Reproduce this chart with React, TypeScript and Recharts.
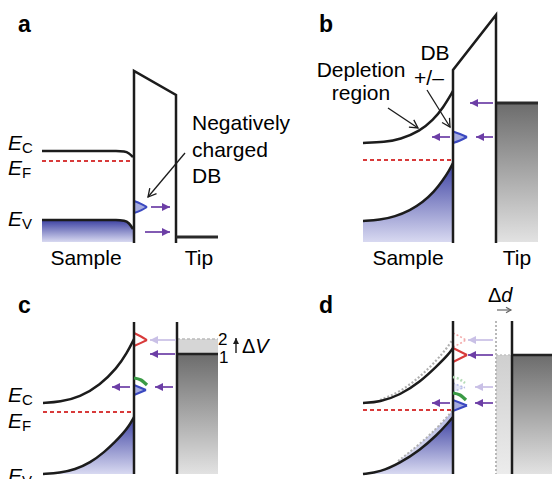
import React from 'react';
import { ComposedChart, Line, Area, XAxis, YAxis } from 'recharts';

type P = { x: number; y: number };
type R = { x: number; r: [number, number] };

// ---------- Panel a : flat bands, negatively charged DB ----------
const ecA: P[] = [{ x: 42, y: 151 }, { x: 116, y: 151 }, { x: 124, y: 151.6 }, { x: 129, y: 153.5 }, { x: 133, y: 157 }];
const efA: P[] = [{ x: 42, y: 161 }, { x: 132, y: 161 }];
const evA: P[] = [{ x: 42, y: 220 }, { x: 116, y: 220 }, { x: 124, y: 220.8 }, { x: 129, y: 223.5 }, { x: 133, y: 229 }];
const barrierA: P[] = [{ x: 134, y: 243 }, { x: 134, y: 71 }, { x: 176, y: 95 }, { x: 176, y: 243 }];
const tipA: P[] = [{ x: 176, y: 237 }, { x: 218, y: 237 }];
const dbA: R[] = [{ x: 134, r: [201, 213] }, { x: 141, r: [203.8, 210.4] }, { x: 147, r: [207, 207] }];
const arrowsA: P[][] = [
  [{ x: 151, y: 207 }, { x: 170, y: 207 }],
  [{ x: 145, y: 232 }, { x: 170, y: 232 }],
];
const pointerA: P[] = [{ x: 185, y: 153 }, { x: 148, y: 197 }];

// ---------- Panel b : depletion region ----------
const ecB: P[] = [{ x: 363, y: 143 }, { x: 385, y: 142 }, { x: 400, y: 139.5 }, { x: 420, y: 131 }, { x: 433, y: 120 }, { x: 443, y: 108 }, { x: 453, y: 91 }];
const efB: P[] = [{ x: 363, y: 160 }, { x: 452, y: 160 }];
const evB: P[] = [{ x: 363, y: 221 }, { x: 380, y: 220 }, { x: 395, y: 216.5 }, { x: 410, y: 210.5 }, { x: 423, y: 202 }, { x: 434, y: 192 }, { x: 443, y: 180 }, { x: 449, y: 171 }, { x: 453, y: 163 }];
const barrierB: P[] = [{ x: 453, y: 243 }, { x: 453, y: 70 }, { x: 496, y: 15 }, { x: 496, y: 243 }];
const tipB: P[] = [{ x: 496, y: 103 }, { x: 538, y: 103 }];
const dbB: R[] = [{ x: 453, r: [131.5, 143] }, { x: 460, r: [134, 140.5] }, { x: 467, r: [137, 137] }];
const arrowsB: P[][] = [
  [{ x: 493, y: 103 }, { x: 470, y: 103 }],
  [{ x: 493, y: 137 }, { x: 476, y: 137 }],
  [{ x: 450, y: 137 }, { x: 432, y: 137 }],
];
const pointerB1: P[] = [{ x: 388, y: 108 }, { x: 418, y: 128 }];
const pointerB2: P[] = [{ x: 427, y: 90 }, { x: 450, y: 127 }];

// ---------- Panel c : bias change ΔV ----------
const ecC: P[] = [{ x: 43, y: 403 }, { x: 60, y: 402 }, { x: 80, y: 397 }, { x: 100, y: 385 }, { x: 117, y: 368 }, { x: 127, y: 353 }, { x: 134, y: 339 }];
const efC: P[] = [{ x: 43, y: 412 }, { x: 132, y: 412 }];
const evC: P[] = [{ x: 43, y: 474 }, { x: 60, y: 473 }, { x: 75, y: 469.5 }, { x: 90, y: 463 }, { x: 105, y: 451.5 }, { x: 115, y: 442 }, { x: 123, y: 433.5 }, { x: 129, y: 426 }, { x: 134, y: 417 }];
const barrierC: P[] = [{ x: 134, y: 322 }, { x: 134, y: 474 }];
const tipLineC: P[] = [{ x: 177, y: 322 }, { x: 177, y: 474 }];
const level1C: P[] = [{ x: 177, y: 354 }, { x: 218, y: 354 }];
const level2C: P[] = [{ x: 177, y: 339 }, { x: 218, y: 339 }];
const redC: R[] = [{ x: 134, r: [333, 346] }, { x: 141, r: [336.5, 342.8] }, { x: 147, r: [340, 340] }];
const greenC: P[] = [{ x: 134, y: 378 }, { x: 141, y: 380 }, { x: 147, y: 385 }];
const blueC: R[] = [{ x: 134, r: [385, 395] }, { x: 140, r: [387.5, 392.5] }, { x: 146, r: [390, 390] }];
const arrowsCLight: P[][] = [[{ x: 176, y: 340 }, { x: 150, y: 340 }]];
const arrowsC: P[][] = [
  [{ x: 175, y: 354 }, { x: 150, y: 354 }],
  [{ x: 173, y: 387 }, { x: 155, y: 387 }],
  [{ x: 130, y: 387 }, { x: 112, y: 387 }],
];
const dvArrow: P[] = [{ x: 236, y: 353 }, { x: 236, y: 338 }];

// ---------- Panel d : distance change Δd ----------
const ecD: P[] = [{ x: 363, y: 403 }, { x: 380, y: 402 }, { x: 400, y: 395 }, { x: 420, y: 382 }, { x: 437, y: 366 }, { x: 448, y: 355 }, { x: 453, y: 348 }];
const ecDOld: P[] = [{ x: 380, y: 400 }, { x: 400, y: 392 }, { x: 420, y: 377 }, { x: 437, y: 360 }, { x: 447, y: 348 }, { x: 453, y: 339 }];
const efD: P[] = [{ x: 363, y: 410 }, { x: 452, y: 410 }];
const evD: P[] = [{ x: 363, y: 474 }, { x: 380, y: 472 }, { x: 400, y: 463 }, { x: 420, y: 450 }, { x: 437, y: 435 }, { x: 448, y: 423 }, { x: 453, y: 417 }];
const evDOld: P[] = [{ x: 398, y: 461 }, { x: 420, y: 444 }, { x: 437, y: 428 }, { x: 447, y: 417 }, { x: 453, y: 410 }];
const barrierD: P[] = [{ x: 453, y: 321 }, { x: 453, y: 474 }];
const oldTipD: P[] = [{ x: 496, y: 321 }, { x: 496, y: 474 }];
const tipLineD: P[] = [{ x: 512, y: 321 }, { x: 512, y: 474 }];
const tipTopD: P[] = [{ x: 512, y: 355 }, { x: 552, y: 355 }];
const oldTopD: P[] = [{ x: 496, y: 355 }, { x: 512, y: 355 }];
const redD: R[] = [{ x: 453, r: [348, 362] }, { x: 460, r: [351.5, 358.5] }, { x: 467, r: [355, 355] }];
const redDOld: R[] = [{ x: 453, r: [333, 347] }, { x: 460, r: [336.5, 343.5] }, { x: 466, r: [340, 340] }];
const greenDOld: P[] = [{ x: 453, y: 377 }, { x: 459, y: 379 }, { x: 465, y: 383 }];
const blueDOld: R[] = [{ x: 453, r: [383, 392] }, { x: 459, r: [385.5, 389.5] }, { x: 465, r: [387.5, 387.5] }];
const greenD: P[] = [{ x: 453, y: 393 }, { x: 460, y: 395 }, { x: 466, y: 400 }];
const blueD: R[] = [{ x: 453, r: [400, 411] }, { x: 460, r: [402.8, 408.2] }, { x: 467, r: [405.5, 405.5] }];
const arrowsDLight: P[][] = [
  [{ x: 493, y: 340 }, { x: 468, y: 340 }],
  [{ x: 493, y: 387 }, { x: 475, y: 387 }],
];
const arrowsD: P[][] = [
  [{ x: 493, y: 355 }, { x: 468, y: 355 }],
  [{ x: 493, y: 403 }, { x: 475, y: 403 }],
  [{ x: 450, y: 403 }, { x: 432, y: 403 }],
];
const ddArrow: P[] = [{ x: 497, y: 310 }, { x: 511, y: 310 }];

const INK = '#1c1c1c';
const PURPLE = '#6c3ea6';
const LIGHT_PURPLE = '#c9c0e6';
const RED = '#d83a3a';
const BLUE = '#3a48c0';
const BLUE_FILL = '#a6acdf';
const GREEN = '#3a9a45';
const SMOOTH = 'basis';

const headFn = (data: P[], color: string, size: number, open: boolean, sw: number) => (p: any) => {
  if (p.index !== data.length - 1 || p.cx == null) return <g key={`h${p.index}`} />;
  const a = data[data.length - 2];
  const b = data[data.length - 1];
  const ang = Math.atan2(b.y - a.y, b.x - a.x);
  const L = size;
  const W = size * (open ? 0.55 : 0.5);
  const bx = p.cx - L * Math.cos(ang);
  const by = p.cy - L * Math.sin(ang);
  const px = -Math.sin(ang) * W;
  const py = Math.cos(ang) * W;
  const pts = `${bx + px},${by + py} ${p.cx},${p.cy} ${bx - px},${by - py}`;
  return open ? (
    <polyline key={`h${p.index}`} points={pts} fill="none" stroke={color} strokeWidth={sw} />
  ) : (
    <polygon key={`h${p.index}`} points={pts} fill={color} stroke="none" />
  );
};

const arrow = (key: string, data: P[], color: string, sw: number, size: number, open = false) => (
  <Line
    key={key}
    data={data}
    dataKey="y"
    type="linear"
    stroke={color}
    strokeWidth={sw}
    dot={headFn(data, color, size, open, sw)}
    activeDot={false}
    isAnimationActive={false}
  />
);

const curve = (key: string, data: P[], color: string, sw: number, type: any = 'monotone', dash?: string) => (
  <Line
    key={key}
    data={data}
    dataKey="y"
    type={type}
    stroke={color}
    strokeWidth={sw}
    strokeDasharray={dash}
    dot={false}
    activeDot={false}
    isAnimationActive={false}
  />
);

const fillArea = (key: string, data: P[], base: number, fill: string, stroke: string, sw: number, type: any = 'monotone', dash?: string) => (
  <Area
    key={key}
    data={data}
    dataKey="y"
    type={type}
    baseValue={base}
    fill={fill}
    fillOpacity={1}
    stroke={stroke}
    strokeWidth={sw}
    strokeDasharray={dash}
    dot={false}
    activeDot={false}
    isAnimationActive={false}
  />
);

const shape = (key: string, data: R[], stroke: string, fill: string, sw: number, dash?: string) => (
  <Area
    key={key}
    data={data}
    dataKey="r"
    type="monotone"
    fill={fill}
    fillOpacity={1}
    stroke={stroke}
    strokeWidth={sw}
    strokeDasharray={dash}
    dot={false}
    activeDot={false}
    isAnimationActive={false}
  />
);

const FONT = '"Liberation Sans", Arial, Helvetica, sans-serif';

const ELabel = ({ x, y, sub }: { x: number; y: number; sub: string }) => (
  <text x={x} y={y} fontSize={21} fontStyle="italic" fill="#000">
    E
    <tspan fontStyle="normal" fontSize={15} dy={3}>
      {sub}
    </tspan>
  </text>
);

export default function App() {
  return (
    <div style={{ position: 'absolute', left: 0, top: 0, width: 552, height: 479, background: '#fff' }}>
      <ComposedChart width={552} height={479} margin={{ top: 0, right: 0, bottom: 0, left: 0 }}>
        <defs>
          <linearGradient id="blueGrad" x1="0" y1="0" x2="0" y2="1">
            <stop offset="0%" stopColor="#3d42a2" />
            <stop offset="100%" stopColor="#d8d9f1" />
          </linearGradient>
          <linearGradient id="blueGradLight" x1="0" y1="0" x2="0" y2="1">
            <stop offset="0%" stopColor="#b4b8e2" />
            <stop offset="100%" stopColor="#e4e5f5" />
          </linearGradient>
          <linearGradient id="grayGrad" x1="0" y1="0" x2="0" y2="1">
            <stop offset="0%" stopColor="#6c6c6c" />
            <stop offset="100%" stopColor="#e2e2e2" />
          </linearGradient>
          <linearGradient id="grayLight" x1="0" y1="0" x2="0" y2="1">
            <stop offset="0%" stopColor="#cfcfcf" />
            <stop offset="100%" stopColor="#ececec" />
          </linearGradient>
        </defs>
        <XAxis type="number" dataKey="x" domain={[0, 552]} hide allowDataOverflow />
        <YAxis type="number" domain={[0, 479]} reversed hide allowDataOverflow />

        {/* Panel a */}
        {fillArea('evA', evA, 242, 'url(#blueGrad)', INK, 2.5)}
        {curve('ecA', ecA, INK, 2.5)}
        {curve('efA', efA, RED, 2, 'linear', '4 3')}
        {curve('barrierA', barrierA, INK, 2.5, 'linear')}
        {curve('tipA', tipA, '#2a2a2a', 3, 'linear')}
        {shape('dbA', dbA, BLUE, BLUE_FILL, 2)}
        {arrowsA.map((a, i) => arrow(`arA${i}`, a, PURPLE, 1.7, 8))}
        {arrow('ptA', pointerA, INK, 1.3, 8, true)}

        {/* Panel b */}
        {fillArea('evB', evB, 242, 'url(#blueGrad)', INK, 2.5, SMOOTH)}
        {curve('ecB', ecB, INK, 2.5, SMOOTH)}
        {curve('efB', efB, RED, 2, 'linear', '4 3')}
        {fillArea('tipB', tipB, 242, 'url(#grayGrad)', '#2a2a2a', 3, 'linear')}
        {curve('barrierB', barrierB, INK, 2.5, 'linear')}
        {shape('dbB', dbB, BLUE, BLUE_FILL, 2)}
        {arrowsB.map((a, i) => arrow(`arB${i}`, a, PURPLE, 1.7, 8))}
        {arrow('ptB1', pointerB1, INK, 1.3, 8, true)}
        {arrow('ptB2', pointerB2, INK, 1.3, 8, true)}

        {/* Panel c */}
        {fillArea('evC', evC, 474, 'url(#blueGrad)', INK, 2.5, SMOOTH)}
        {curve('ecC', ecC, INK, 2.5, SMOOTH)}
        {curve('efC', efC, RED, 2, 'linear', '4 3')}
        {fillArea('lvl2C', level2C, 354, '#d6d6d6', '#bcbcbc', 1.5, 'linear', '3 2')}
        {fillArea('lvl1C', level1C, 474, 'url(#grayGrad)', '#222', 2.5, 'linear')}
        {curve('barrierC', barrierC, INK, 2.5, 'linear')}
        {curve('tipLineC', tipLineC, INK, 2.5, 'linear')}
        {shape('redC', redC, RED, '#ffffff', 2)}
        {curve('greenC', greenC, GREEN, 3.2)}
        {shape('blueC', blueC, BLUE, BLUE_FILL, 2)}
        {arrowsCLight.map((a, i) => arrow(`arCL${i}`, a, LIGHT_PURPLE, 1.7, 8))}
        {arrowsC.map((a, i) => arrow(`arC${i}`, a, PURPLE, 1.7, 8))}
        {arrow('dv', dvArrow, INK, 1.4, 6)}

        {/* Panel d */}
        {fillArea('evDOld', evDOld, 474, 'url(#blueGradLight)', '#b0b0b0', 2, SMOOTH, '2 2')}
        {fillArea('evD', evD, 474, 'url(#blueGrad)', INK, 2.5, SMOOTH)}
        {curve('ecDOld', ecDOld, '#b0b0b0', 2.2, SMOOTH, '2 2')}
        {curve('ecD', ecD, INK, 2.5, SMOOTH)}
        {curve('efD', efD, RED, 2, 'linear', '4 3')}
        {fillArea('oldTopD', oldTopD, 474, 'url(#grayLight)', '#c4c4c4', 1.5, 'linear', '2 2')}
        {fillArea('tipTopD', tipTopD, 474, 'url(#grayGrad)', '#222', 2.5, 'linear')}
        {curve('oldTipD', oldTipD, '#b8b8b8', 2, 'linear', '2 2')}
        {curve('barrierD', barrierD, INK, 2.5, 'linear')}
        {curve('tipLineD', tipLineD, INK, 2.5, 'linear')}
        {shape('redDOld', redDOld, '#f2a8a8', 'none', 1.6, '2 2')}
        {curve('greenDOld', greenDOld, '#b6dcb8', 2.6, 'monotone', '2 2')}
        {shape('blueDOld', blueDOld, '#b8bde8', '#e4e6f6', 1.6, '2 2')}
        {shape('redD', redD, RED, '#ffffff', 2)}
        {curve('greenD', greenD, GREEN, 3.2)}
        {shape('blueD', blueD, BLUE, BLUE_FILL, 2)}
        {arrowsDLight.map((a, i) => arrow(`arDL${i}`, a, LIGHT_PURPLE, 1.7, 8))}
        {arrowsD.map((a, i) => arrow(`arD${i}`, a, PURPLE, 1.7, 8))}
        {arrow('dd', ddArrow, '#666', 1.2, 5, true)}
      </ComposedChart>

      <svg
        width={552}
        height={479}
        style={{ position: 'absolute', left: 0, top: 0, pointerEvents: 'none' }}
        fontFamily={FONT}
      >
        {/* panel letters */}
        <text x={18} y={32} fontSize={23} fontWeight="bold">a</text>
        <text x={319} y={32} fontSize={23} fontWeight="bold">b</text>
        <text x={18} y={313} fontSize={23} fontWeight="bold">c</text>
        <text x={319} y={313} fontSize={23} fontWeight="bold">d</text>

        {/* panel a */}
        <ELabel x={8} y={150} sub="C" />
        <ELabel x={8} y={175} sub="F" />
        <ELabel x={8} y={226} sub="V" />
        <text x={192} y={130} fontSize={21}>Negatively</text>
        <text x={192} y={157} fontSize={21}>charged</text>
        <text x={192} y={183} fontSize={21}>DB</text>
        <text x={86} y={265} fontSize={21} textAnchor="middle">Sample</text>
        <text x={199} y={265} fontSize={21} textAnchor="middle">Tip</text>

        {/* panel b */}
        <text x={361} y={77} fontSize={21} textAnchor="middle">Depletion</text>
        <text x={361} y={100} fontSize={21} textAnchor="middle">region</text>
        <text x={435} y={60} fontSize={21} textAnchor="middle">DB</text>
        <text x={429} y={85} fontSize={21} textAnchor="middle">+/–</text>
        <text x={408} y={265} fontSize={21} textAnchor="middle">Sample</text>
        <text x={517} y={265} fontSize={21} textAnchor="middle">Tip</text>

        {/* panel c */}
        <ELabel x={8} y={402} sub="C" />
        <ELabel x={8} y={428} sub="F" />
        <ELabel x={8} y={483} sub="V" />
        <text x={218} y={345} fontSize={17}>2</text>
        <text x={219} y={363} fontSize={17}>1</text>
        <text x={242} y={353} fontSize={20}>
          Δ<tspan fontStyle="italic">V</tspan>
        </text>

        {/* panel d */}
        <text x={488} y={302} fontSize={20}>
          Δ<tspan fontStyle="italic">d</tspan>
        </text>
      </svg>
    </div>
  );
}
